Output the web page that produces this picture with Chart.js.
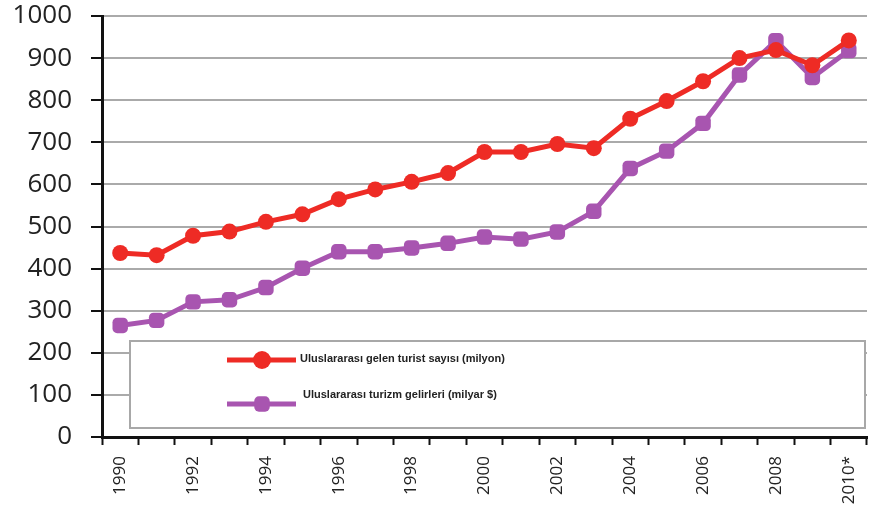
<!DOCTYPE html>
<html>
<head>
<meta charset="utf-8">
<script src="https://cdn.jsdelivr.net/npm/chart.js@4.4.1/dist/chart.umd.min.js"></script>
<style>
  html, body { margin: 0; padding: 0; background: #fff; overflow: hidden; }
  canvas { display: block; }
</style>
</head>
<body>
<!-- a little wider than the window: Chart.js keeps ~10px of right padding for the last rotated label -->
<canvas id="tourismChart" width="876" height="506"></canvas>
<script>
// Years on the x axis (2010 is an estimate, marked with *)
const years = ["1990", "1991", "1992", "1993", "1994", "1995", "1996", "1997", "1998", "1999",
               "2000", "2001", "2002", "2003", "2004", "2005", "2006", "2007", "2008", "2009", "2010*"];

// International tourist arrivals (million)
const arrivals = [437, 432, 478, 488, 511, 529, 565, 588, 606, 627,
                  677, 677, 696, 686, 756, 798, 845, 900, 919, 883, 942];

// International tourism receipts (billion $)
const receipts = [265, 277, 321, 326, 355, 401, 440, 440, 449, 460,
                  475, 470, 487, 536, 638, 679, 745, 860, 941, 854, 918];

const yTicks = [0, 100, 200, 300, 400, 500, 600, 700, 800, 900, 1000];

const RED = "#ee2b25";
const PURPLE = "#a855b0";

// Boxed legend drawn inside the plot, over the gridlines
const boxLegend = {
    id: "boxLegend",
    afterDatasetsDraw(chart) {
        const ctx = chart.ctx;
        const box = { left: 130, top: 341, right: 865, bottom: 428 };
        ctx.save();
        ctx.fillStyle = "#fff";
        ctx.fillRect(box.left, box.top, box.right - box.left, box.bottom - box.top);
        ctx.strokeStyle = "#a8a8a8";
        ctx.lineWidth = 2;
        ctx.strokeRect(box.left, box.top, box.right - box.left, box.bottom - box.top);

        const rows = [
            { y: 360, textX: 300, textY: 359 },
            { y: 404, textX: 303, textY: 395 }
        ];
        chart.data.datasets.forEach((ds, i) => {
            const r = rows[i];
            ctx.strokeStyle = ds.borderColor;
            ctx.lineWidth = 5;
            ctx.beginPath();
            ctx.moveTo(227, r.y);
            ctx.lineTo(296, r.y);
            ctx.stroke();
            ctx.fillStyle = ds.pointBackgroundColor;
            Chart.helpers.drawPoint(ctx, { pointStyle: ds.pointStyle, radius: 9, rotation: 0, borderWidth: 0 }, 262, r.y);
            ctx.fillStyle = "#222";
            ctx.font = "bold 11px 'Liberation Sans', Arial, sans-serif";
            ctx.textBaseline = "middle";
            ctx.textAlign = "left";
            ctx.fillText(ds.label, r.textX, r.textY);
        });
        ctx.restore();
    }
};

new Chart(document.getElementById("tourismChart").getContext("2d"), {
    type: "line",
    data: {
        labels: years,
        datasets: [
            {
                label: "Uluslararası gelen turist sayısı (milyon)",
                data: arrivals,
                borderColor: RED,
                backgroundColor: RED,
                pointBackgroundColor: RED,
                pointBorderColor: RED,
                pointStyle: "circle",
                pointRadius: 8,
                pointBorderWidth: 0,
                borderWidth: 5,
                tension: 0
            },
            {
                label: "Uluslararası turizm gelirleri (milyar $)",
                data: receipts,
                borderColor: PURPLE,
                backgroundColor: PURPLE,
                pointBackgroundColor: PURPLE,
                pointBorderColor: PURPLE,
                pointStyle: "rectRounded",
                pointRadius: 9,
                pointBorderWidth: 0,
                borderWidth: 5,
                tension: 0
            }
        ]
    },
    options: {
        responsive: false,
        animation: false,
        layout: { padding: { top: 16, right: 0, left: 0, bottom: 0 } },
        plugins: {
            legend: { display: false },
            tooltip: { enabled: false }
        },
        scales: {
            x: {
                offset: true,
                grid: {
                    offset: true,
                    drawOnChartArea: false,
                    drawTicks: true,
                    tickLength: 8,
                    tickColor: "#111",
                    tickWidth: 2
                },
                border: { color: "#111", width: 3 },
                ticks: {
                    autoSkip: false,
                    maxRotation: 90,
                    minRotation: 90,
                    padding: 11,
                    color: "#222",
                    font: { family: "'Open Sans', sans-serif", size: 17 },
                    callback: function (value, index) {
                        return index % 2 === 0 ? years[index] : "";
                    }
                },
                afterFit: s => { s.height = 69; s.paddingLeft = 0; s.paddingRight = 0; }
            },
            y: {
                min: 0,
                max: 1000,
                afterBuildTicks: s => { s.ticks = yTicks.map(v => ({ value: v })); },
                grid: {
                    color: "#aaaaaa",
                    lineWidth: 2,
                    tickLength: 11,
                    tickColor: "#111",
                    tickWidth: 2
                },
                border: { color: "#111", width: 3 },
                ticks: {
                    padding: 19,
                    color: "#222",
                    font: { family: "'Open Sans', sans-serif", size: 26 },
                    callback: v => String(v)
                },
                afterFit: s => { s.width = 102; s.paddingTop = 0; s.paddingBottom = 0; }
            }
        }
    },
    plugins: [boxLegend]
});
</script>
</body>
</html>
